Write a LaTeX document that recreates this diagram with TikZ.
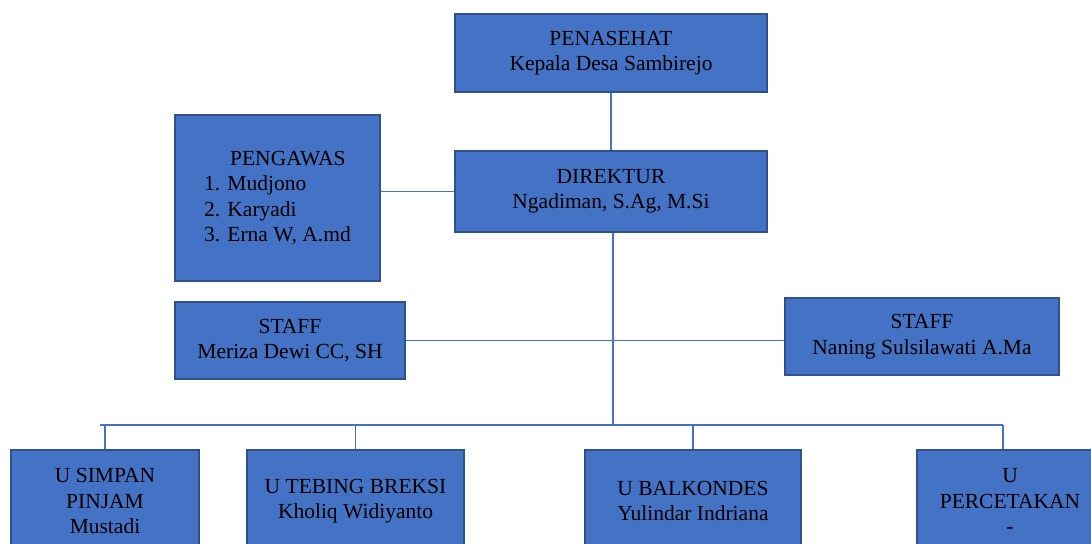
\documentclass[tikz,border=0pt]{standalone}
\usepackage{fontspec}
\setmainfont{Liberation Serif}
\definecolor{unitblue}{HTML}{4472C4}
\definecolor{unitedge}{HTML}{2F528F}
\tikzset{
    unitbox/.style={draw=unitedge, line width=2.5pt, fill=unitblue, align=center,
        inner sep=0pt, font=\fontsize{21.5}{25.5}\selectfont},
    orgline/.style={draw=unitblue, line width=1.4pt},
}
\begin{document}
\begin{tikzpicture}[x=1pt,y=-1pt]
    \useasboundingbox (0,0) rectangle (1091,543);
    \clip (0,0) rectangle (1091,543);
    \node[unitbox, minimum width=312, minimum height=78] (penasehat) at (611,53) {PENASEHAT\\Kepala Desa Sambirejo};
    \node[unitbox, minimum width=312, minimum height=81] (direktur) at (611,191.5) {DIREKTUR\\Ngadiman, S.Ag, M.Si};
    \node[unitbox, minimum width=205, minimum height=166, align=left] (pengawas) at (277.5,198)
        {\hspace*{26pt}PENGAWAS\\1. Mudjono\\2. Karyadi\\3. Erna W, A.md};
    \node[unitbox, minimum width=230, minimum height=77] (staffkiri) at (290,340.5) {STAFF\\Meriza Dewi CC, SH};
    \node[unitbox, minimum width=274, minimum height=77] (staffkanan) at (922,336.5) {STAFF\\Naning Sulsilawati A.Ma};
    \node[unitbox, minimum width=188, minimum height=102] (simpan) at (105,501) {U SIMPAN\\PINJAM\\Mustadi};
    \node[unitbox, minimum width=217, minimum height=102] (tebing) at (355.5,501) {U TEBING BREKSI\\Kholiq Widiyanto};
    \node[unitbox, minimum width=216, minimum height=102] (balkondes) at (693,501) {U BALKONDES\\Yulindar Indriana};
    \node[unitbox, minimum width=186, minimum height=102] (percetakan) at (1010,501) {U\\PERCETAKAN\\-};
    \coordinate (buskiri) at (100,425);
    \coordinate (buskanan) at (1003,425);
    % garis penghubung
    \draw[orgline] (penasehat) -- (direktur);
    \draw[orgline] (pengawas.east |- direktur.west) -- (direktur.west);
    \draw[orgline] (staffkiri.east) -- (staffkiri.east -| staffkanan.west);
    \draw[orgline] ([xshift=2pt]direktur.south) -- ([xshift=2pt]direktur.south |- buskiri);
    \draw[orgline] (buskiri) -- (buskanan);
    \foreach \u in {simpan,tebing,balkondes}
        \draw[orgline] (\u.north |- buskiri) -- (\u.north);
    \draw[orgline] (buskanan) -- (buskanan |- percetakan.north);
\end{tikzpicture}
\end{document}
